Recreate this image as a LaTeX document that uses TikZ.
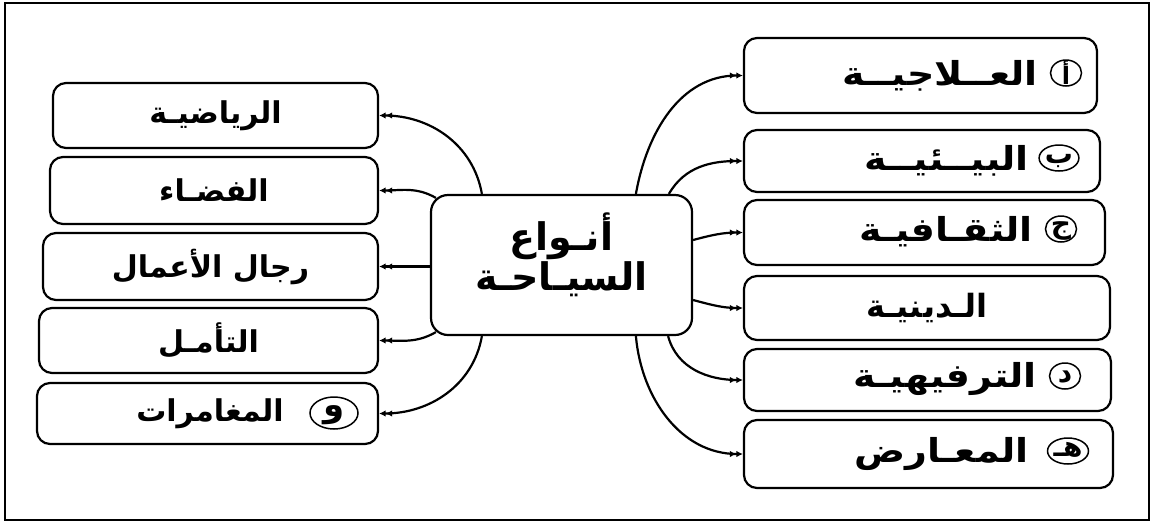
\documentclass[tikz,border=0pt]{standalone}
\usepackage{fontspec}
\newfontfamily\arabicfont[Script=Arabic]{DejaVu Sans}
\newfontfamily\arabicwide[Script=Arabic,FakeStretch=1.15]{DejaVu Sans}
\TeXXeTstate=1
\usetikzlibrary{arrows.meta,shapes.geometric,calc}
\begin{document}
\begin{tikzpicture}[x=1pt,y=-1pt,
  box/.style={draw, line width=2.2pt, rounded corners=13pt, inner sep=0pt,
    font=\arabicfont\bfseries\fontsize{30}{34}\selectfont},
  lbl/.style={font=\arabicwide\bfseries\fontsize{33}{36}\selectfont, inner sep=0pt},
  badge/.style={draw, ellipse, line width=1.5pt, inner sep=0pt,
    minimum width=31pt, minimum height=26pt, text height=7pt, text depth=1pt,
    font=\arabicfont\bfseries\fontsize{28}{30}\selectfont},
  conn/.style={line width=2.2pt,
    -{Latex[length=6.5pt,width=6.5pt]Latex[length=6.5pt,width=6.5pt]}}]
\useasboundingbox (0,0) rectangle (1153,523);
\draw[line width=1.4pt] (5,3) rectangle (1149,520);

% centre
\node[box, rounded corners=17pt, minimum width=261pt, minimum height=140pt] (c) at (561.5,265) {};
\node[align=center, inner sep=0pt, font=\arabicfont\bfseries\fontsize{38}{40}\selectfont]
  (ct) at (561.5,255) {\beginR أنـواع\endR\\\beginR السيـاحـة\endR};

% right boxes
\node[box, minimum width=353pt, minimum height=75pt] (r1) at (920.5,75.5) {};
\node[box, minimum width=356pt, minimum height=62pt] (r2) at (922,161) {};
\node[box, minimum width=361pt, minimum height=65pt] (r3) at (924.5,232.5) {};
\node[box, minimum width=366pt, minimum height=64pt, font=\arabicfont\bfseries\fontsize{32}{36}\selectfont] (r4) at (927,308) {\beginR الـدينيـة\endR};
\node[box, minimum width=367pt, minimum height=62pt] (r5) at (927.5,380) {};
\node[box, minimum width=369pt, minimum height=68pt] (r6) at (928.5,454) {};

\node[lbl, anchor=east] (t1) at (1038,76) {\beginR العــلاجيــة\endR};
\node[lbl, anchor=east] (t2) at (1029,161) {\beginR البيــئيــة\endR};
\node[lbl, anchor=east] (t3) at (1033,232) {\beginR الثقـافيـة\endR};
\node[lbl, anchor=east] (t5) at (1037,379) {\beginR الترفيهيـة\endR};
\node[lbl, anchor=east] (t6) at (1029,454) {\beginR المعـارض\endR};

\node[badge] (b1) at (1066,73) {\raisebox{-8.5pt}{\fontsize{24}{26}\selectfont\beginR أ\endR}};
\node[badge] (b2) at (1059,158) {\raisebox{-2pt}{\beginR ب\endR}};
\node[badge] (b3) at (1061,229) {\raisebox{-1pt}{\beginR ج\endR}};
\node[badge] (b5) at (1065,376) {\raisebox{-3pt}{\beginR د\endR}};
\node[badge] (b6) at (1068,451) {\raisebox{-2pt}{\beginR هـ\endR}};

% left boxes
\node[box, minimum width=325pt, minimum height=65pt] (l1) at (215.5,115.5) {\beginR الرياضيـة\endR};
\node[box, minimum width=328pt, minimum height=67pt] (l2) at (214,190.5) {\beginR الفضـاء\endR};
\node[box, minimum width=335pt, minimum height=67pt] (l3) at (210.5,266.5) {\beginR رجال الأعمال\endR};
\node[box, minimum width=339pt, minimum height=65pt] (l4) at (208.5,340.5) {\beginR التأمـل\endR};
\node[box, minimum width=341pt, minimum height=61pt] (l5) at (207.5,413.5) {};
\node[anchor=east, inner sep=0pt, font=\arabicfont\bfseries\fontsize{30}{34}\selectfont] (t7) at (284,414) {\beginR المغامرات\endR};
\node[badge, minimum width=48pt, minimum height=32pt, font=\arabicfont\bfseries\fontsize{34}{36}\selectfont] (b7) at (334,413) {\beginR و\endR};

% connectors left
\draw[conn] ($(c.north west)+(52,0)$) to[out=100,in=0] (l1.east);
\draw[conn] ($(c.north west)+(6,4)$) to[out=150,in=0] (l2.east);
\draw[conn] (c.west |- l3.east) -- (l3.east);
\draw[conn] ($(c.south west)+(6,-4)$) to[out=210,in=0] (l4.east);
\draw[conn] ($(c.south west)+(52,0)$) to[out=-100,in=0] (l5.east);

% connectors right
\draw[conn] ($(c.north west)+(206,0)$) to[out=80,in=180] (r1.west);
\draw[conn] ($(c.north west)+(239,0)$) to[out=60,in=180] (r2.west);
\draw[conn] ($(c.east)+(0,-25)$) to[out=15,in=180] (r3.west);
\draw[conn] ($(c.east)+(0,35)$) to[out=-15,in=180] (r4.west);
\draw[conn] ($(c.south east)+(-25,0)$) to[out=-75,in=180] (r5.west);
\draw[conn] ($(c.south west)+(206,0)$) to[out=-85,in=180] (r6.west);
\end{tikzpicture}
\end{document}
